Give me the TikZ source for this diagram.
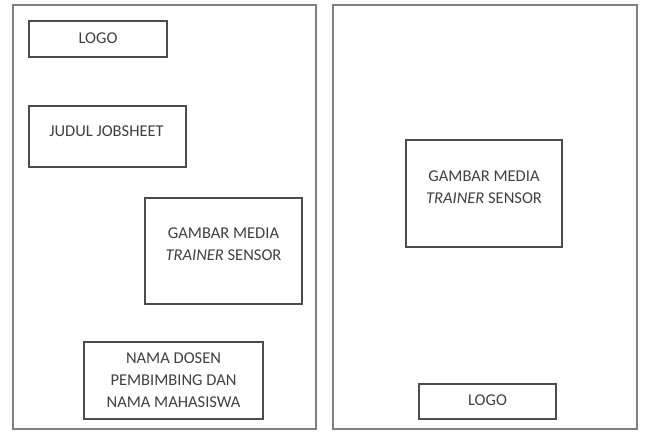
\documentclass[tikz,border=0pt]{standalone}
\usepackage{fontspec}
\setmainfont{Carlito}
\usepackage{tikz}

\begin{document}
\begin{tikzpicture}[x=1pt,y=-1pt,
  page/.style={draw=black!50,line width=1.4pt},
  box/.style args={#1/#2}{draw=black!70,line width=1.1pt,minimum width=#1pt,minimum height=#2pt,inner sep=0pt},
  txt/.style={text=black!75,font=\fontsize{16.5}{22}\selectfont,align=center,inner sep=0pt}]
\useasboundingbox (0,0) rectangle (646,432);
% two pages
\draw[page] (13,5) rectangle (316,429);
\draw[page] (333,5) rectangle (637,429);
% left page
\node[box=138/36] (logoA) at (98,39) {};
\node[box=157/61] (judul) at (107.5,136.5) {};
\node[box=157/106] (gambarA) at (223.5,251) {};
\node[box=179/77] (nama) at (173.5,380.5) {};
\node[txt] (logoAtxt) at ([yshift=1pt]logoA.center) {LOGO};
\node[txt] (judultxt) at ([xshift=-1pt,yshift=5.5pt]judul.center) {JUDUL JOBSHEET};
\node[txt] (gambarAtxt) at ([yshift=6.5pt]gambarA.center) {GAMBAR MEDIA\\\textit{TRAINER} SENSOR};
\node[txt] (namatxt) at (nama.center) {NAMA DOSEN\\PEMBIMBING DAN\\NAMA MAHASISWA};
% right page
\node[box=156/107] (gambarB) at (484,193.5) {};
\node[box=137/35] (logoB) at (487.5,401.5) {};
\node[txt] (gambarBtxt) at ([yshift=6pt]gambarB.center) {GAMBAR MEDIA\\\textit{TRAINER} SENSOR};
\node[txt] (logoBtxt) at ([yshift=1.5pt]logoB.center) {LOGO};
\end{tikzpicture}
\end{document}
